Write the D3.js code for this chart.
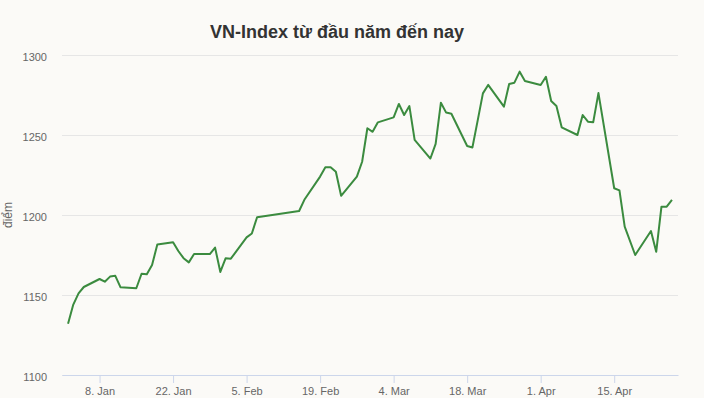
<!DOCTYPE html>
<html>
<head>
<meta charset="utf-8">
<script src="https://cdn.jsdelivr.net/npm/d3@7"></script>
<style>
  body { margin: 0; background: #fbfaf7; }
  svg { display: block; font-family: "Liberation Sans", Arial, sans-serif; }
</style>
</head>
<body>
<div id="chart"></div>
<script>
const width = 704;
const height = 398;

// Trading days (2024) and closing values
const dates = [
  "2024-01-02", "2024-01-03", "2024-01-04", "2024-01-05",
  "2024-01-08", "2024-01-09", "2024-01-10", "2024-01-11", "2024-01-12",
  "2024-01-15", "2024-01-16", "2024-01-17", "2024-01-18", "2024-01-19",
  "2024-01-22", "2024-01-23", "2024-01-24", "2024-01-25", "2024-01-26",
  "2024-01-29", "2024-01-30", "2024-01-31", "2024-02-01", "2024-02-02",
  "2024-02-05", "2024-02-06", "2024-02-07",
  "2024-02-15", "2024-02-16",
  "2024-02-19", "2024-02-20", "2024-02-21", "2024-02-22", "2024-02-23",
  "2024-02-26", "2024-02-27", "2024-02-28", "2024-02-29", "2024-03-01",
  "2024-03-04", "2024-03-05", "2024-03-06", "2024-03-07", "2024-03-08",
  "2024-03-11", "2024-03-12", "2024-03-13", "2024-03-14", "2024-03-15",
  "2024-03-18", "2024-03-19", "2024-03-20", "2024-03-21", "2024-03-22",
  "2024-03-25", "2024-03-26", "2024-03-27", "2024-03-28", "2024-03-29",
  "2024-04-01", "2024-04-02", "2024-04-03", "2024-04-04", "2024-04-05",
  "2024-04-08", "2024-04-09", "2024-04-10", "2024-04-11", "2024-04-12",
  "2024-04-15", "2024-04-16", "2024-04-17", "2024-04-19",
  "2024-04-22", "2024-04-23", "2024-04-24", "2024-04-25", "2024-04-26"
];
const values = [
  1132.0, 1144.0, 1151.0, 1155.0,
  1160.0, 1158.3, 1161.5, 1162.0, 1154.8,
  1154.2, 1163.3, 1162.9, 1168.8, 1181.5,
  1183.0, 1177.5, 1173.0, 1170.4, 1175.6,
  1175.6, 1179.6, 1164.4, 1172.9, 1172.7,
  1186.0, 1188.4, 1198.6,
  1202.5, 1209.5,
  1224.0, 1229.8, 1229.8, 1227.0, 1212.0,
  1224.0, 1233.3, 1254.2, 1252.0, 1257.9,
  1261.0, 1269.4, 1262.5, 1268.1, 1247.0,
  1235.3, 1244.4, 1270.2, 1264.0, 1263.3,
  1243.1, 1242.2, 1259.0, 1276.0, 1281.3,
  1267.7, 1281.9, 1282.7, 1289.6, 1283.8,
  1281.3, 1286.4, 1271.3, 1268.1, 1254.8,
  1250.0, 1262.5, 1258.3, 1257.9, 1276.2,
  1216.7, 1215.4, 1192.7, 1175.0,
  1190.0, 1177.0, 1205.2, 1205.2, 1209.4
];

const xTicks = ["2024-01-08", "2024-01-22", "2024-02-05", "2024-02-19",
                "2024-03-04", "2024-03-18", "2024-04-01", "2024-04-15"];
const yTicks = [1100, 1150, 1200, 1250, 1300];

const title = "VN-Index từ đầu năm đến nay";
const yTitle = "điểm";

const parse = d3.utcParse("%Y-%m-%d");
const data = dates.map((d, i) => ({ date: parse(d), value: values[i] }));

const margin = { top: 55, right: 26, bottom: 23, left: 62 };

// small padding on both ends of the time axis
const [t0, t1] = d3.extent(data, d => d.date);
const pad = (t1 - t0) * 0.01;

const x = d3.scaleUtc()
    .domain([new Date(+t0 - pad), new Date(+t1 + pad)])
    .range([margin.left, width - margin.right]);

const y = d3.scaleLinear()
    .domain([1100, 1300])
    .range([height - margin.bottom, margin.top]);

const svg = d3.select("#chart").append("svg")
    .attr("width", width)
    .attr("height", height)
    .attr("viewBox", [0, 0, width, height]);

svg.append("rect")
    .attr("width", width)
    .attr("height", height)
    .attr("fill", "#fbfaf7");

// title
svg.append("text")
    .attr("x", 337)
    .attr("y", 38)
    .attr("text-anchor", "middle")
    .style("font-size", "18px")
    .style("font-weight", "bold")
    .style("fill", "#333")
    .text(title);

// y grid + labels
const yAxis = svg.append("g")
    .attr("transform", `translate(${margin.left},0)`)
    .call(d3.axisLeft(y).tickValues(yTicks).tickSize(-(width - margin.left - margin.right)).tickFormat(d3.format("d")));
yAxis.select(".domain").remove();
yAxis.selectAll(".tick line").attr("stroke", "#e6e6e6");
yAxis.selectAll(".tick text")
    .attr("x", -15)
    .attr("dy", "0.5em")
    .style("font-size", "11px")
    .style("fill", "#666")
    .style("font-family", "Liberation Sans, Arial, sans-serif");

// y axis title
svg.append("text")
    .attr("transform", `translate(12,${(margin.top + height - margin.bottom) / 2}) rotate(-90)`)
    .attr("text-anchor", "middle")
    .style("font-size", "12px")
    .style("fill", "#666")
    .text(yTitle);

// x axis
const xAxis = svg.append("g")
    .attr("transform", `translate(0,${height - margin.bottom})`)
    .call(d3.axisBottom(x)
        .tickValues(xTicks.map(parse))
        .tickSize(8)
        .tickSizeOuter(0)
        .tickPadding(4)
        .tickFormat(d3.utcFormat("%-d. %b")));
xAxis.select(".domain").attr("stroke", "#ccd6eb");
xAxis.selectAll(".tick line").attr("stroke", "#ccd6eb");
xAxis.selectAll(".tick text")
    .style("font-size", "11px")
    .style("fill", "#666")
    .style("font-family", "Liberation Sans, Arial, sans-serif");

// line
const line = d3.line()
    .x(d => x(d.date))
    .y(d => y(d.value));

svg.append("path")
    .datum(data)
    .attr("fill", "none")
    .attr("stroke", "#3b8b3f")
    .attr("stroke-width", 2)
    .attr("stroke-linejoin", "round")
    .attr("d", line);
</script>
</body>
</html>
